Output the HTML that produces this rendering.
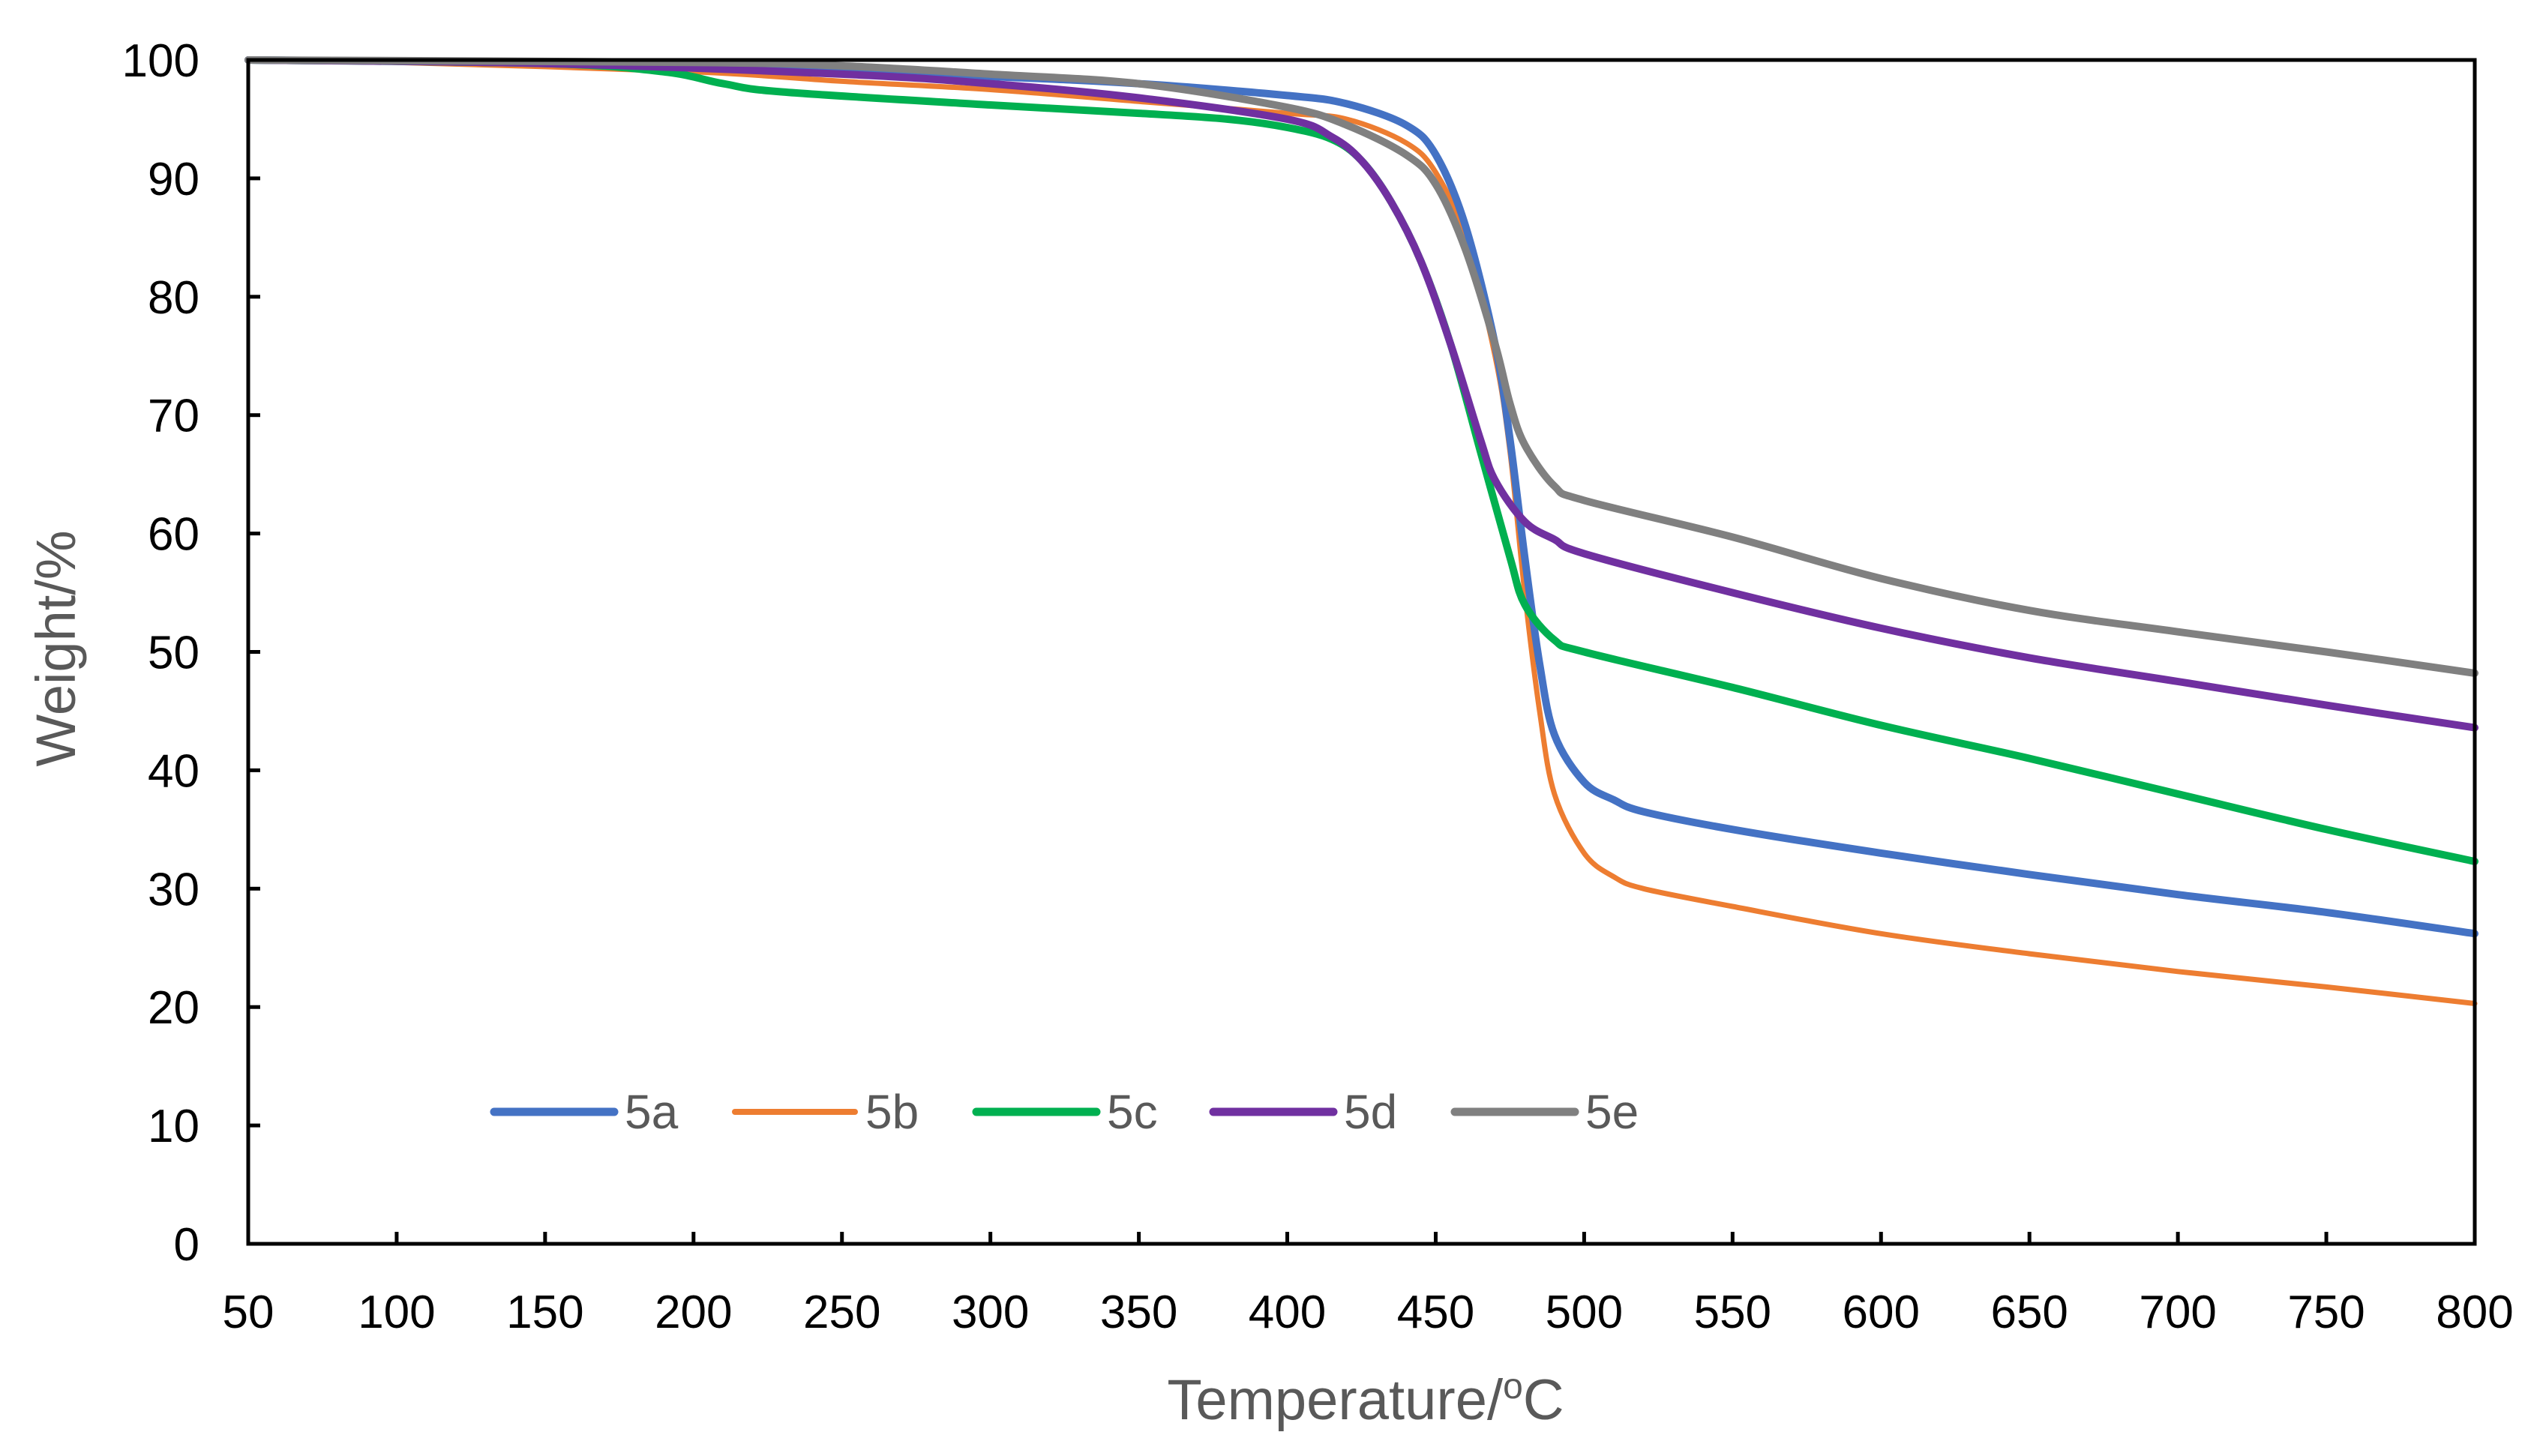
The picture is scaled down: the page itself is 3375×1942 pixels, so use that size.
<!DOCTYPE html>
<html><head><meta charset="utf-8"><style>
html,body{margin:0;padding:0;background:#fff;}
svg{display:block;}
text{font-family:"Liberation Sans",sans-serif;}
</style></head><body>
<svg id="chart" width="3375" height="1942" viewBox="0 0 3375 1942" xmlns="http://www.w3.org/2000/svg">
<g id="series"></g>
<g id="axes"></g>
<g id="legend"></g>
<text x="0" y="0" transform="translate(100,865) rotate(-90)" text-anchor="middle" font-size="74" fill="#595959">Weight/%</text>
<text x="1821" y="1893" text-anchor="middle" font-size="76" fill="#595959">Temperature/<tspan font-size="48" dy="-28">o</tspan><tspan dy="28">C</tspan></text>
</svg>
<script>
const xTicks=[50,100,150,200,250,300,350,400,450,500,550,600,650,700,750,800];
const yTicks=[0,10,20,30,40,50,60,70,80,90,100];
const seriesNames=["5a","5b","5c","5d","5e"];
const seriesColors=["#4472C4","#ED7D31","#00B050","#7030A0","#808080"];
const s5aT=[50,150,200,300,350,400,420,440,450,460,470,475,480,485,490,500,510,520,550,600,650,700,750,800];
const s5aW=[100,99.8,99.5,98.6,98,97,96.3,94.5,92,86,76,68,58,49,43,39,37.5,36.5,35,33,31.2,29.5,28,26.2];
const s5bT=[50,100,200,250,300,350,400,420,440,450,460,470,475,480,485,490,500,510,520,550,600,650,700,750,800];
const s5bW=[100,99.8,99,98.2,97.5,96.5,95.5,95,93,90.5,85,75,67,55,45,38,33,31,30,28.5,26.2,24.5,23,21.7,20.3];
const s5cT=[50,150,190,210,230,300,350,380,400,415,425,435,445,455,465,475,480,490,500,550,600,650,700,750,800];
const s5cW=[100,99.7,99,98,97.3,96.2,95.5,95,94.3,93.3,91.5,88,83,76,67,58,54,51,50,47,43.8,41,38,35,32.3];
const s5dT=[50,150,250,300,350,400,415,425,435,445,455,465,470,480,490,500,550,600,650,700,750,800];
const s5dW=[100,99.7,98.8,98,96.8,95,93.5,91.5,88,83,76,68,64.5,61,59.5,58.3,55,52,49.5,47.5,45.5,43.6];
const s5eT=[50,200,250,300,350,400,420,440,450,460,470,475,480,490,500,550,600,650,700,750,800];
const s5eW=[100,99.8,99.5,98.8,98,96,94.5,92,89.5,84,76,71,67.5,64,62.8,59.7,56.2,53.5,51.7,50,48.2];
const allT=[s5aT,s5bT,s5cT,s5dT,s5eT];
const allW=[s5aW,s5bW,s5cW,s5dW,s5eW];

const L=331,R=3300,T=80,B=1659;
const xS=v=>L+(v-50)/750*(R-L);
const yS=v=>B-v/100*(B-T);
const NS="http://www.w3.org/2000/svg";
function mk(tag,attrs,parent){const e=document.createElementNS(NS,tag);for(const k in attrs)e.setAttribute(k,attrs[k]);parent.appendChild(e);return e;}
function smooth(P){
  let d='M'+P[0][0].toFixed(1)+','+P[0][1].toFixed(1);
  for(let i=0;i<P.length-1;i++){
    const p0=P[Math.max(0,i-1)],p1=P[i],p2=P[i+1],p3=P[Math.min(P.length-1,i+2)];
    const c1=[p1[0]+(p2[0]-p0[0])/6,p1[1]+(p2[1]-p0[1])/6];
    const c2=[p2[0]-(p3[0]-p1[0])/6,p2[1]-(p3[1]-p1[1])/6];
    d+='C'+c1[0].toFixed(1)+','+c1[1].toFixed(1)+' '+c2[0].toFixed(1)+','+c2[1].toFixed(1)+' '+p2[0].toFixed(1)+','+p2[1].toFixed(1);
  }
  return d;
}
const gS=document.getElementById('series'),gA=document.getElementById('axes'),gL=document.getElementById('legend');
const widths=[10,7,10,10,10];
const order=[1,0,2,3,4];
order.forEach(i=>{
  const P=allT[i].map((t,j)=>[xS(t),yS(allW[i][j])]);
  const p=mk('path',{d:smooth(P),fill:'none',stroke:seriesColors[i],'stroke-width':widths[i],'stroke-linejoin':'round','stroke-linecap':'round'},gS);
  
  
});
const frame=mk('rect',{x:L,y:T,width:R-L,height:B-T,fill:'none',stroke:'#000','stroke-width':5},gA);


xTicks.forEach(v=>{
  const tk=mk('line',{x1:xS(v),x2:xS(v),y1:B,y2:B-16,stroke:'#000','stroke-width':5},gA);
  
  
  const t=mk('text',{x:xS(v),y:B+112,'text-anchor':'middle','font-size':62,fill:'#000'},gA);
  t.textContent=v;
  
  
});
yTicks.forEach(v=>{
  const tk=mk('line',{x1:L,x2:L+16,y1:yS(v),y2:yS(v),stroke:'#000','stroke-width':5},gA);
  
  
  const t=mk('text',{x:266,y:yS(v)+22,'text-anchor':'end','font-size':62,fill:'#000'},gA);
  t.textContent=v;
  
  
});
const legX=[653,974,1296,1612,1934];
for(let i=0;i<seriesNames.length;i++){
  const g=mk('g',{},gL);
  
  
  mk('line',{x1:legX[i]+6,x2:legX[i]+166,y1:1483,y2:1483,stroke:seriesColors[i],'stroke-width':i==1?8:11,'stroke-linecap':'round'},g);
  const t=mk('text',{x:legX[i]+180,y:1505,'font-size':64,fill:'#595959'},g);
  t.textContent=seriesNames[i];
}
</script>
</body></html>
